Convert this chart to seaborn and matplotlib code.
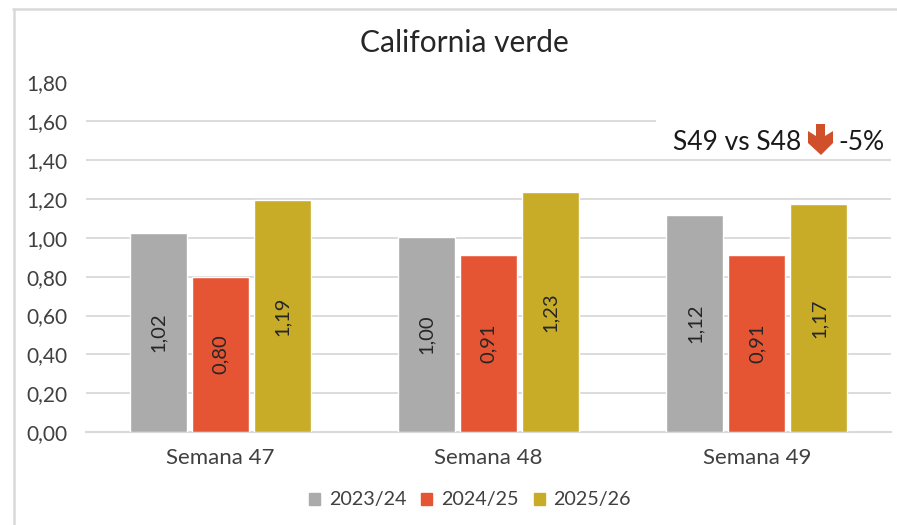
import pandas as pd
import matplotlib
matplotlib.use('Agg')
import matplotlib.pyplot as plt
from matplotlib.lines import Line2D
from matplotlib.patches import Polygon, Rectangle
import seaborn as sns

weeks = ['Semana 47', 'Semana 48', 'Semana 49']
seasons = ['2023/24', '2024/25', '2025/26']
v_2324 = [1.024, 1.004, 1.118]
v_2425 = [0.80, 0.91, 0.91]
v_2526 = [1.194, 1.234, 1.172]
y_ticks = [0, 0.2, 0.4, 0.6, 0.8, 1.0, 1.2, 1.4, 1.6, 1.8]
colors = ['#ababab', '#e55534', '#c8ac27']

W, H = 897, 525
GRID = '#d9d9d9'
TEXT = '#404040'

sns.set_theme(style='white')
plt.rcParams['font.family'] = ['Lato', 'DejaVu Sans']

df = pd.DataFrame({
    'week': weeks * 3,
    'season': [s for s in seasons for _ in weeks],
    'value': v_2324 + v_2425 + v_2526,
})

fig = plt.figure(figsize=(W / 100, H / 100), dpi=100)
ax = fig.add_axes([86 / W, 1 - 432 / H, (891 - 86) / W, (432 - 82.5) / H])

sns.barplot(data=df, x='week', y='value', hue='season', hue_order=seasons,
            palette=colors, width=0.693, gap=0.08, saturation=1, ax=ax,
            legend=False, zorder=3)

ax.set_ylim(0, 1.8)
ax.set_xlim(-0.5, 2.5)
ax.set_yticks(y_ticks)
ax.set_yticklabels([f'{t:.2f}'.replace('.', ',') for t in y_ticks],
                   fontsize=15, color=TEXT)
ax.tick_params(axis='y', length=0, pad=13.5)
ax.tick_params(axis='x', length=0, pad=11.5, labelsize=16, labelcolor=TEXT)
ax.set_xlabel('')
ax.set_ylabel('')
ax.grid(axis='y', color=GRID, linewidth=1.3, zorder=0)
ax.set_axisbelow(True)
for side in ['top', 'right', 'left']:
    ax.spines[side].set_visible(False)
ax.spines['bottom'].set_color(GRID)
ax.spines['bottom'].set_linewidth(1.5)

# value labels sit rotated in the middle of each bar
for cont in ax.containers:
    labels = [f'{b.get_height():.2f}'.replace('.', ',') for b in cont]
    ax.bar_label(cont, labels=labels, label_type='center', rotation=90,
                 fontsize=14.5, color='#262626')

fig.text(464 / W, 1 - 43 / H, 'California verde', ha='center', va='center',
         fontsize=21.5, color='#262626')

# chart frame, only left and top show in the crop
fig.add_artist(Line2D([13.5 / W, 13.5 / W], [0, 1 - 9 / H], color=GRID, lw=1.8))
fig.add_artist(Line2D([13 / W, 1], [1 - 9 / H, 1 - 9 / H], color=GRID, lw=1.8))

# white note box hides part of the 1,60 gridline
fig.add_artist(Rectangle((656 / W, 1 - 156 / H), 237 / W, 37 / H, color='white', lw=0,
                         transform=fig.transFigure, zorder=4))
fig.text(673 / W, 1 - 142.5 / H, 'S49 vs S48', ha='left', va='center',
         fontsize=19, color='#1a1a1a', zorder=5)
fig.text(838 / W, 1 - 142.5 / H, '-5%', ha='left', va='center',
         fontsize=19, color='#1a1a1a', zorder=5)
arrow = [(816, 124), (825, 124), (825, 136), (833, 131), (833, 143), (821, 155),
         (808, 143), (808, 131), (816, 136)]
fig.add_artist(Polygon([(x / W, 1 - y / H) for x, y in arrow], closed=True,
                       facecolor='#d0502b', edgecolor='none',
                       transform=fig.transFigure, zorder=5))

handles = [Rectangle((0, 0), 1, 1, color=c) for c in colors]
fig.legend(handles, seasons, loc='center', bbox_to_anchor=(470 / W, 1 - 500 / H),
           ncol=3, frameon=False, fontsize=14.2, labelcolor=TEXT,
           handlelength=0.56, handleheight=0.56, handletextpad=0.45,
           columnspacing=0.75)

fig.savefig('out.png', dpi=100)
